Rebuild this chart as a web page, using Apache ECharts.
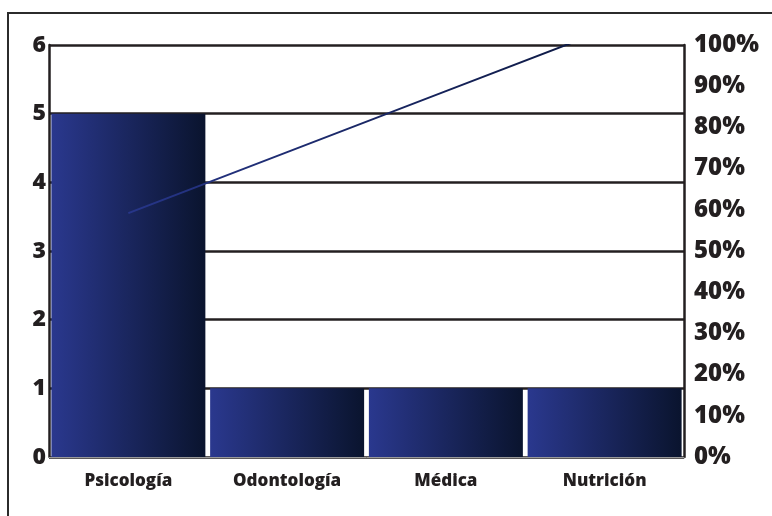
<!DOCTYPE html>
<html><head><meta charset="utf-8">
<script src="https://cdn.jsdelivr.net/npm/echarts@6/dist/echarts.min.js"></script>
<style>html,body{margin:0;padding:0;background:#fff}#c{width:772px;height:516px}</style>
</head><body><div id="c"></div>
<script>
var categories = ['Psicología', 'Odontología', 'Médica', 'Nutrición'];
var counts = [5, 1, 1, 1];
var cumulativePct = [59.2, 74, 88.8, 103.6];
var leftTicks = [0, 1, 2, 3, 4, 5, 6];
var rightTicks = [0, 10, 20, 30, 40, 50, 60, 70, 80, 90, 100];

var FONT = '"Open Sans", Lato, sans-serif';
var INK = '#231f20';
var chart = echarts.init(document.getElementById('c'), null, {renderer: 'canvas'});
chart.setOption({
  animation: false,
  backgroundColor: '#fff',
  graphic: [{
    type: 'rect', z: 100, silent: true,
    shape: {x: 8, y: 13, width: 900, height: 700},
    style: {fill: 'none', stroke: '#2b2b2b', lineWidth: 2}
  }],
  grid: {left: 49, right: 88, top: 45, bottom: 59},
  xAxis: {
    type: 'category', data: categories,
    axisLine: {show: true, lineStyle: {color: '#9a9a9a', width: 1}},
    axisTick: {show: false},
    axisLabel: {color: INK, fontFamily: FONT, fontWeight: 800, fontSize: 17, margin: 16}
  },
  yAxis: [{
    type: 'value', min: leftTicks[0], max: leftTicks[leftTicks.length - 1], interval: 1,
    axisLine: {show: true, lineStyle: {color: INK, width: 2.5}},
    axisTick: {show: false},
    axisLabel: {color: INK, fontFamily: FONT, fontWeight: 800, fontSize: 23, margin: 3},
    splitLine: {show: true, lineStyle: {color: INK, width: 2.5}}
  }, {
    type: 'value', min: rightTicks[0], max: rightTicks[rightTicks.length - 1], interval: 10,
    position: 'right',
    axisLine: {show: true, lineStyle: {color: INK, width: 2.5}},
    axisTick: {show: false},
    axisLabel: {color: INK, fontFamily: FONT, fontWeight: 800, fontSize: 24, margin: 10, formatter: '{value}%'},
    splitLine: {show: false}
  }],
  series: [{
    type: 'bar', data: counts, yAxisIndex: 0,
    barCategoryGap: '3%',
    itemStyle: {
      color: new echarts.graphic.LinearGradient(0, 0, 1, 0, [
        {offset: 0, color: '#2a388e'},
        {offset: 1, color: '#0a142e'}
      ])
    }
  }, {
    type: 'line', data: cumulativePct, yAxisIndex: 1,
    symbol: 'none', clip: true,
    lineStyle: {width: 2, color: new echarts.graphic.LinearGradient(0, 0, 1, 0, [
      {offset: 0, color: '#27368a'},
      {offset: 1, color: '#0c1840'}
    ])}
  }]
});
</script></body></html>
